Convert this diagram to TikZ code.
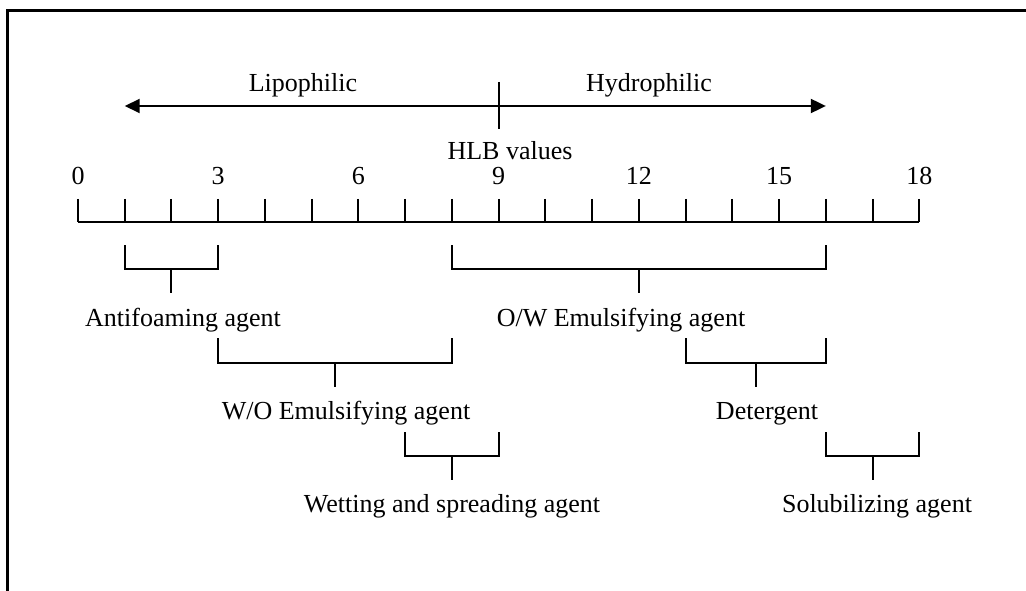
\documentclass[tikz,border=0pt]{standalone}
\usepackage{fontspec}
\setmainfont{Liberation Serif}
\usetikzlibrary{arrows.meta}
\begin{document}
\begin{tikzpicture}[x=1pt,y=-1pt,
  lbl/.style={font=\fontsize{26}{30}\selectfont, inner sep=0pt, anchor=base},
  ln/.style={line width=2pt},
  brk/.style={line width=2pt},
  frame/.style={line width=3pt},
  arr/.style={line width=2pt, {Triangle[length=15pt,width=14pt]}-{Triangle[length=15pt,width=14pt]}}
]
\useasboundingbox (0,0) rectangle (1026,591);
% frame (top and left visible)
\coordinate (fbl) at (7,591);
\coordinate (ftl) at (7,11);
\coordinate (ftr) at (1026,11);
\draw[frame] (fbl) -- (ftl) -- (ftr);

% top arrow
\coordinate (aL) at ({78+46.74*1},106);
\coordinate (aR) at ({78+46.74*16},106);
\coordinate (mT) at ({78+46.74*9},82);
\coordinate (mB) at ({78+46.74*9},129);
\draw[arr] (aL) -- (aR);
\draw[ln] (mT) -- (mB);
\node[lbl] (lipo) at (303,92) {Lipophilic};
\node[lbl] (hydro) at (649,92) {Hydrophilic};
\node[lbl] (hlb) at (510,160) {HLB values};

% axis
\coordinate (ax0) at (78,222);
\coordinate (ax18) at ({78+46.74*18},222);
\draw[ln] (ax0) -- (ax18);
\foreach \i in {0,...,18} {
  \coordinate (t\i) at ({78+46.74*\i},199);
  \coordinate (b\i) at ({78+46.74*\i},222);
  \draw[ln] (t\i) -- (b\i);
}
\foreach \i in {0,3,...,18} {
  \node[lbl] (n\i) at ({78+46.74*\i},185) {\i};
}

% brackets: \brk{a}{b}{top}{mid}{bottom}
\newcommand\hlbbracket[5]{%
  \draw[brk] ({78+46.74*#1},#3) -- ({78+46.74*#1},#4) -- ({78+46.74*#2},#4) -- ({78+46.74*#2},#3);
  \draw[brk] ({78+46.74*(#1+#2)/2},#4) -- ({78+46.74*(#1+#2)/2},#5);
}
\hlbbracket{1}{3}{245}{269}{293}
\hlbbracket{8}{16}{245}{269}{293}
\hlbbracket{3}{8}{338}{363}{387}
\hlbbracket{13}{16}{338}{363}{387}
\hlbbracket{7}{9}{432}{456}{480}
\hlbbracket{16}{18}{432}{456}{480}

\node[lbl] (anti) at (183,326) {Antifoaming agent};
\node[lbl] (ow) at (621,326) {O/W Emulsifying agent};
\node[lbl] (wo) at (346,419) {W/O Emulsifying agent};
\node[lbl] (det) at (767,419) {Detergent};
\node[lbl] (wet) at (452,512) {Wetting and spreading agent};
\node[lbl] (sol) at (877,512) {Solubilizing agent};
\end{tikzpicture}
\end{document}
